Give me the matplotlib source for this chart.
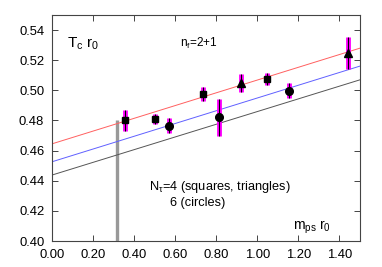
import matplotlib
matplotlib.use("Agg")
import matplotlib.pyplot as plt
import numpy as np

plt.rcParams['font.family'] = ['Liberation Sans', 'DejaVu Sans']
plt.rcParams['mathtext.fontset'] = 'custom'
plt.rcParams['mathtext.rm'] = 'Liberation Sans'
plt.rcParams['mathtext.it'] = 'Liberation Sans'

# data: (m_ps r0, Tc r0, error)
sq_x = [0.356, 0.500, 0.734, 1.047]
sq_y = [0.480, 0.481, 0.4976, 0.5073]
sq_e = [0.007, 0.003, 0.0045, 0.004]

tri_x = [0.920, 1.443]
tri_y = [0.5047, 0.525]
tri_e = [0.006, 0.0107]

circ_x = [0.570, 0.815, 1.153]
circ_y = [0.4765, 0.482, 0.4998]
circ_e = [0.005, 0.0124, 0.005]

# fit lines: intercept, slope
line_int = [0.4645, 0.4526, 0.4438]
line_slope = [0.0423, 0.0423, 0.0421]
line_col = ['#ff6060', '#6060ff', '#555555']

phys_x = 0.318
phys_top = 0.48

xticks = [0.0, 0.2, 0.4, 0.6, 0.8, 1.0, 1.2, 1.4]
yticks = [0.40, 0.42, 0.44, 0.46, 0.48, 0.50, 0.52, 0.54]

fig = plt.figure(figsize=(3.82, 2.67), dpi=100)
ax = fig.add_axes([0.136, 0.097, 0.806, 0.847])

xs = np.array([0.0, 1.5])
for b, m, c in zip(line_int, line_slope, line_col):
    ax.plot(xs, b + m * xs, color=c, lw=0.7, zorder=2)

ax.plot([phys_x, phys_x], [0.40, phys_top], color='#999999', lw=2.4, solid_capstyle='butt', zorder=1)

for x, y, e, mk, ms in [(sq_x, sq_y, sq_e, 's', 5), (tri_x, tri_y, tri_e, '^', 5.5), (circ_x, circ_y, circ_e, 'o', 5.5)]:
    ax.errorbar(x, y, yerr=e, fmt='none', ecolor='magenta', elinewidth=3.5, capsize=0, zorder=3)
    ax.errorbar(x, y, yerr=e, fmt='none', ecolor='black', elinewidth=0.8, capsize=0, zorder=4)
    ax.plot(x, y, linestyle='none', marker=mk, color='black', ms=ms, zorder=5)

ax.set_xlim(0, 1.5)
ax.set_ylim(0.40, 0.55)
ax.set_xticks(xticks)
ax.set_yticks(yticks)
ax.set_xticklabels([f"{v:.2f}" for v in xticks])
ax.set_yticklabels([f"{v:.2f}" for v in yticks])
ax.tick_params(direction='in', top=True, right=True, length=4, width=0.7, labelsize=9.4, pad=5.5, color='#444444')
for s in ax.spines.values():
    s.set_linewidth(0.8)
    s.set_color('#444444')

ax.text(0.073, 0.531, r'T$_\mathrm{c}$ r$_0$', fontsize=11, va='center', ha='left')
ax.text(0.623, 0.5314, r'n$_\mathrm{f}$=2+1', fontsize=8.5, va='center', ha='left')
ax.text(0.472, 0.4358, r'N$_\mathrm{\tau}$=4 (squares, triangles)', fontsize=9.2, va='center', ha='left')
ax.text(0.575, 0.4252, '6 (circles)', fontsize=9.2, va='center', ha='left')
ax.text(1.174, 0.4093, r'm$_\mathrm{ps}$ r$_0$', fontsize=10, va='center', ha='left')

fig.savefig('out.png', dpi=100)
